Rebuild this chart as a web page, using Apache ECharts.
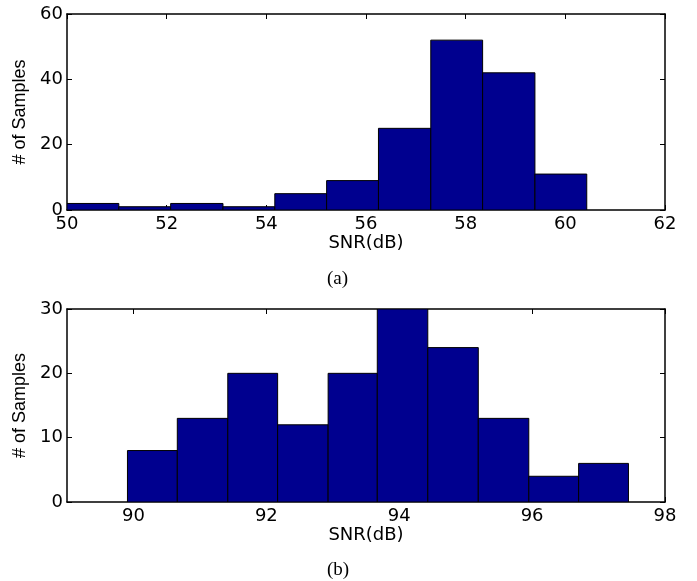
<!DOCTYPE html>
<html>
<head>
<meta charset="utf-8">
<script src="https://cdn.jsdelivr.net/npm/echarts@6/dist/echarts.min.js"></script>
<style>
  html, body { margin: 0; padding: 0; background: #fff; }
  #chart { width: 697px; height: 581px; }
</style>
</head>
<body>
<div id="chart"></div>
<script>
// histogram (a)
const topEdges = [50.0, 51.04, 52.08, 53.13, 54.17, 55.21, 56.25, 57.3, 58.34, 59.39, 60.43];
const topCounts = [2, 1, 2, 1, 5, 9, 25, 52, 42, 11];
const topXTicks = [50, 52, 54, 56, 58, 60, 62];
const topYTicks = [0, 20, 40, 60];

// histogram (b)
const bottomEdges = [89.91, 90.66, 91.42, 92.17, 92.93, 93.67, 94.43, 95.19, 95.95, 96.7, 97.45];
const bottomCounts = [8, 13, 20, 12, 20, 30, 24, 13, 4, 6];
const bottomXTicks = [90, 92, 94, 96, 98];
const bottomYTicks = [0, 10, 20, 30];

const barColor = "#00008f";
const labelFont = "DejaVu Sans";

const chart = echarts.init(document.getElementById("chart"));

// bins -> [lo, hi, count]
const toBins = (edges, counts) =>
  counts.map((c, i) => [edges[i], edges[i + 1], c]);

const renderBar = (params, api) => {
  const p0 = api.coord([api.value(0), 0]);
  const p1 = api.coord([api.value(1), api.value(2)]);
  return {
    type: "rect",
    shape: { x: p0[0], y: p1[1], width: p1[0] - p0[0], height: p0[1] - p1[1] },
    style: { fill: barColor, stroke: "#000", lineWidth: 1 },
  };
};

const lineStyle = { color: "#000", width: 1.5 };

// main axes (with labels) + mirrored axes (ticks only) for the box look
const xAxes = (grid, ticks, min, max) => [
  {
    type: "value", gridIndex: grid, min: min, max: max, position: "bottom",
    name: "SNR(dB)", nameLocation: "middle", nameGap: 21,
    nameTextStyle: { fontFamily: labelFont, fontSize: 18, color: "#000" },
    axisLine: { show: true, onZero: false, lineStyle: lineStyle },
    axisTick: { show: true, inside: true, length: 5, customValues: ticks, lineStyle: { color: "#000" } },
    axisLabel: { show: true, customValues: ticks, margin: 5, fontFamily: labelFont, fontSize: 18, color: "#000" },
    splitLine: { show: false },
  },
  {
    type: "value", gridIndex: grid, min: min, max: max, position: "top",
    axisLine: { show: true, onZero: false, lineStyle: lineStyle },
    axisTick: { show: true, inside: true, length: 5, customValues: ticks, lineStyle: { color: "#000" } },
    axisLabel: { show: false },
    splitLine: { show: false },
  },
];

const yAxes = (grid, ticks, max) => [
  {
    type: "value", gridIndex: grid, min: 0, max: max, position: "left",
    name: "# of Samples", nameLocation: "middle", nameGap: 31,
    nameTextStyle: { fontFamily: "Liberation Sans", fontSize: 18, color: "#000" },
    axisLine: { show: true, onZero: false, lineStyle: lineStyle },
    axisTick: { show: true, inside: true, length: 5, customValues: ticks, lineStyle: { color: "#000" } },
    axisLabel: { show: true, customValues: ticks, margin: 4, fontFamily: labelFont, fontSize: 18, color: "#000" },
    splitLine: { show: false },
  },
  {
    type: "value", gridIndex: grid, min: 0, max: max, position: "right",
    axisLine: { show: true, onZero: false, lineStyle: lineStyle },
    axisTick: { show: true, inside: true, length: 5, customValues: ticks, lineStyle: { color: "#000" } },
    axisLabel: { show: false },
    splitLine: { show: false },
  },
];

const option = {
  animation: false,
  backgroundColor: "#fff",
  grid: [
    { left: 67, right: 32, top: 14, height: 196 },
    { left: 67, right: 32, top: 309, height: 193 },
  ],
  xAxis: [
    ...xAxes(0, topXTicks, 50, 62),
    ...xAxes(1, bottomXTicks, 89, 98),
  ],
  yAxis: [
    ...yAxes(0, topYTicks, 60),
    ...yAxes(1, bottomYTicks, 30),
  ],
  graphic: [
    { type: "text", left: 327, top: 270, style: { text: "(a)", font: "19px 'Liberation Serif'", fill: "#000" } },
    { type: "text", left: 327, top: 561, style: { text: "(b)", font: "19px 'Liberation Serif'", fill: "#000" } },
  ],
  series: [
    {
      type: "custom", xAxisIndex: 0, yAxisIndex: 0, clip: true,
      renderItem: renderBar, data: toBins(topEdges, topCounts),
    },
    {
      type: "custom", xAxisIndex: 2, yAxisIndex: 2, clip: true,
      renderItem: renderBar, data: toBins(bottomEdges, bottomCounts),
    },
  ],
};

chart.setOption(option);
</script>
</body>
</html>
